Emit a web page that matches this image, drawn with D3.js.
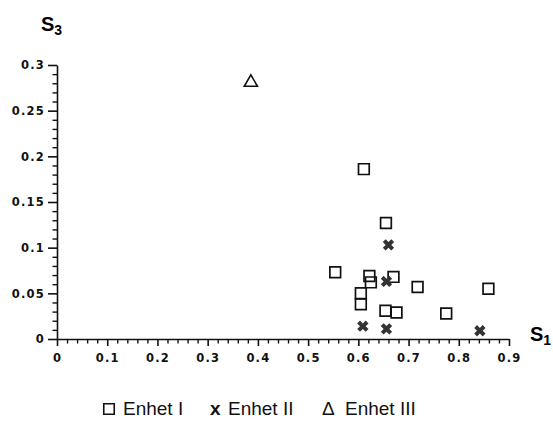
<!DOCTYPE html>
<html>
<head>
<meta charset="utf-8">
<script src="https://cdn.jsdelivr.net/npm/d3@7"></script>
<style>
body{margin:0;background:#fff;}
.tick text{font-family:"DejaVu Sans",sans-serif;font-weight:bold;font-size:11.5px;letter-spacing:1.2px;fill:#111;}
.axis path,.axis line{stroke:#111;stroke-width:1.6;}
</style>
</head>
<body>
<svg id="chart"></svg>
<script>
// Enhet I (squares)
var enhet1X = [0.611,0.655,0.554,0.622,0.625,0.670,0.718,0.605,0.605,0.654,0.676,0.775,0.859]
var enhet1Y = [0.186,0.127,0.073,0.069,0.062,0.068,0.057,0.050,0.038,0.031,0.029,0.028,0.055]
// Enhet II (crosses)
var enhet2X = [0.660,0.656,0.609,0.656,0.842]
var enhet2Y = [0.103,0.063,0.014,0.011,0.009]
// Enhet III (triangle)
var enhet3X = [0.386]
var enhet3Y = [0.282]

var xTicks = [0,0.1,0.2,0.3,0.4,0.5,0.6,0.7,0.8,0.9]
var yTicks = [0,0.05,0.1,0.15,0.2,0.25,0.3]
var xMinor = [0.02,0.04,0.06,0.08,0.12,0.14,0.16,0.18,0.22,0.24,0.26,0.28,0.32,0.34,0.36,0.38,0.42,0.44,0.46,0.48,0.52,0.54,0.56,0.58,0.62,0.64,0.66,0.68,0.72,0.74,0.76,0.78,0.82,0.84,0.86,0.88]
var yMinor = [0.01,0.02,0.03,0.04,0.06,0.07,0.08,0.09,0.11,0.12,0.13,0.14,0.16,0.17,0.18,0.19,0.21,0.22,0.23,0.24,0.26,0.27,0.28,0.29]
var legendLabels = ["Enhet I","Enhet II","Enhet III"]

var size = {width:553,height:421}
var margins = {left:57,top:65,right:44,bottom:82}

var svg = d3.select("#chart")
    .attr("width",size.width)
    .attr("height",size.height)

var xScale = d3.scaleLinear()
    .domain([0,0.9])
    .range([margins.left,size.width-margins.right])

var yScale = d3.scaleLinear()
    .domain([0,0.3])
    .range([size.height-margins.bottom,margins.top])

var fmt = function(d){ return d===0 ? "0" : String(+d.toFixed(2)) }

// minor ticks
svg.append("g")
    .attr("transform","translate(0,"+yScale(0)+")")
    .call(d3.axisBottom(xScale).tickValues(xMinor).tickSize(4.5).tickFormat(function(){ return "" }))
    .call(function(g){ g.select(".domain").remove() })
    .selectAll("line").attr("stroke","#111").attr("stroke-width",1.4)
svg.append("g")
    .attr("transform","translate("+xScale(0)+",0)")
    .call(d3.axisLeft(yScale).tickValues(yMinor).tickSize(4.5).tickFormat(function(){ return "" }))
    .call(function(g){ g.select(".domain").remove() })
    .selectAll("line").attr("stroke","#111").attr("stroke-width",1.4)

// major ticks
var xAxis = svg.append("g")
    .attr("class","axis")
    .attr("transform","translate(0,"+yScale(0)+")")
    .call(d3.axisBottom(xScale).tickValues(xTicks).tickSize(7).tickSizeOuter(0).tickPadding(8).tickFormat(fmt))
var yAxis = svg.append("g")
    .attr("class","axis")
    .attr("transform","translate("+xScale(0)+",0)")
    .call(d3.axisLeft(yScale).tickValues(yTicks).tickSize(9).tickSizeOuter(0).tickPadding(3).tickFormat(fmt))

// axis titles
var t3 = svg.append("text").attr("x",41).attr("y",31)
    .style("font-family","Liberation Sans, Arial, sans-serif").style("font-weight","bold").style("font-size","20px")
t3.append("tspan").text("S")
t3.append("tspan").attr("dy",4).style("font-size","14px").text("3")
var t1 = svg.append("text").attr("x",530).attr("y",341)
    .style("font-family","Liberation Sans, Arial, sans-serif").style("font-weight","bold").style("font-size","20px")
t1.append("tspan").text("S")
t1.append("tspan").attr("dy",4).style("font-size","14px").text("1")

// Enhet I
svg.selectAll(".sq")
    .data(d3.zip(enhet1X,enhet1Y))
    .enter()
    .append("path")
    .attr("class","sq")
    .attr("transform",function(d){ return "translate("+xScale(d[0])+","+yScale(d[1])+")" })
    .attr("d",d3.symbol().type(d3.symbolSquare).size(115))
    .attr("fill","none")
    .attr("stroke","#111")
    .attr("stroke-width",1.7)

// Enhet II
svg.selectAll(".cr")
    .data(d3.zip(enhet2X,enhet2Y))
    .enter()
    .append("path")
    .attr("class","cr")
    .attr("transform",function(d){ return "translate("+xScale(d[0])+","+yScale(d[1])+") rotate(45)" })
    .attr("d",d3.symbol().type(d3.symbolCross).size(80))
    .attr("fill","#333")

// Enhet III
svg.selectAll(".tr")
    .data(d3.zip(enhet3X,enhet3Y))
    .enter()
    .append("path")
    .attr("class","tr")
    .attr("transform",function(d){ return "translate("+xScale(d[0])+","+(yScale(d[1])+1)+")" })
    .attr("d",d3.symbol().type(d3.symbolTriangle).size(75))
    .attr("fill","none")
    .attr("stroke","#111")
    .attr("stroke-width",1.6)

// legend
var legend = svg.append("g").style("font-family","Liberation Sans, Arial, sans-serif").style("font-size","19px").attr("fill","#111")
legend.append("path")
    .attr("transform","translate(109,409)")
    .attr("d",d3.symbol().type(d3.symbolSquare).size(110))
    .attr("fill","none").attr("stroke","#111").attr("stroke-width",1.6)
legend.append("text").attr("x",123).attr("y",415).text(legendLabels[0])
legend.append("text").attr("x",210).attr("y",415).style("font-weight","bold").text("x")
legend.append("text").attr("x",228).attr("y",415).text(legendLabels[1])
legend.append("text").attr("x",322).attr("y",415).text("\u0394")
legend.append("text").attr("x",345).attr("y",415).text(legendLabels[2])
</script>
</body>
</html>
